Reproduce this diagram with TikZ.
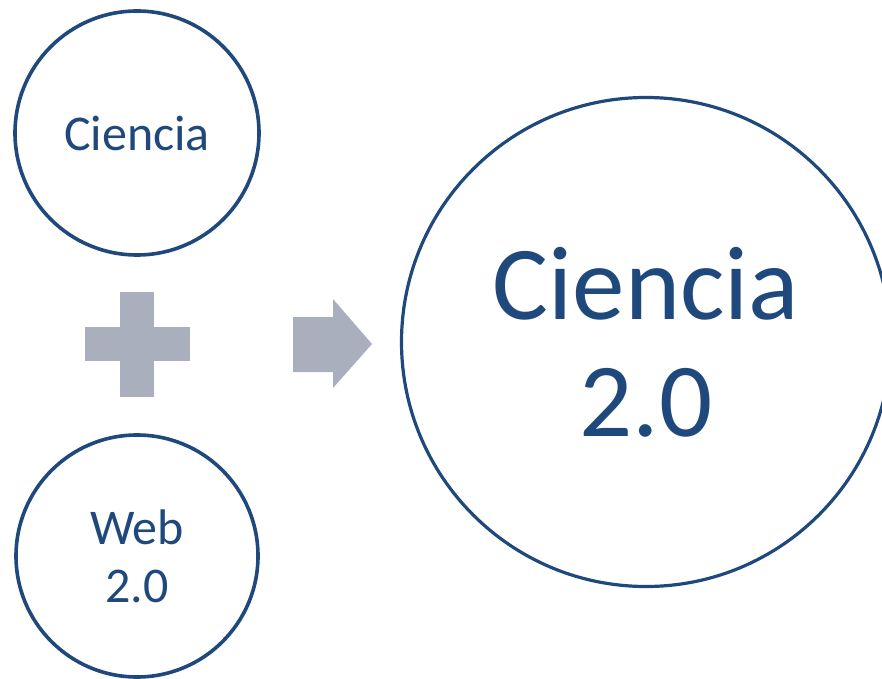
\documentclass[tikz,border=0pt]{standalone}
\usepackage{fontspec}
\setmainfont{Carlito}
\usepackage{tikz}
\usetikzlibrary{positioning}
\definecolor{navy}{HTML}{1F497D}
\definecolor{signgray}{HTML}{A9AFBC}
\tikzset{
  bubble/.style={circle,draw=navy,line width=3.6pt,text=navy,align=center,inner sep=0pt},
  sign/.style={fill=signgray,draw=none}
}
\begin{document}
\begin{tikzpicture}[x=1pt,y=1pt]
  \useasboundingbox (0,0) rectangle (882,678);
  \clip (0,0) rectangle (882,678);
  \node[bubble,minimum size=244pt,font=\fontsize{50}{60}\selectfont] (ciencia) at (137,545) {Ciencia};
  \node[bubble,minimum size=242pt,font=\fontsize{50}{58}\selectfont] (web) at (137,122) {Web\\2.0};
  \node[bubble,minimum size=489pt,line width=3.2pt,font=\fontsize{105}{117}\selectfont] (ciencia2) at (646,336) {Ciencia\\2.0};
  % plus sign
  \fill[sign] (85,317) rectangle (190,351);
  \fill[sign] (120,281) rectangle (154,386);
  % block arrow
  \fill[sign] (293,306) -- (333,306) -- (333,290) -- (372,334) -- (333,379) -- (333,361) -- (293,361) -- cycle;
\end{tikzpicture}
\end{document}
